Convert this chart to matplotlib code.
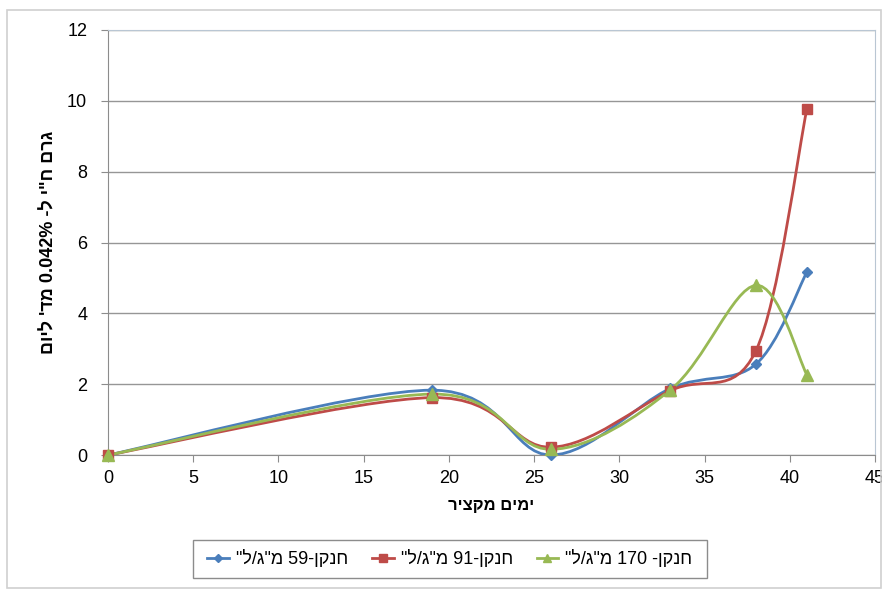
import numpy as np
import matplotlib
matplotlib.use('Agg')
import matplotlib.pyplot as plt
from matplotlib.path import Path
from matplotlib.patches import PathPatch, Rectangle
from matplotlib.lines import Line2D

plt.rcParams['font.family'] = ['Liberation Sans', 'DejaVu Sans']

# days since harvest
days = [0, 19, 26, 33, 38, 41]

# values per series
n59 = [0, 1.83, 0.0, 1.88, 2.56, 5.16]
n91 = [0, 1.62, 0.22, 1.82, 2.93, 9.76]
n170 = [0, 1.72, 0.16, 1.84, 4.79, 2.27]

# hebrew strings are written in visual (left-to-right) order
labels = ['"ל/ג"מ 59-ןקנח', '"ל/ג"מ 91-ןקנח', '"ל/ג"מ 170 -ןקנח']
colors = ['#4a7ebb', '#be4b48', '#98b954']
markers = ['D', 's', '^']
msizes = [5, 7, 8]
xlabel = 'ריצקמ םימי'
ylabel = "םויל 'דמ 0.042% -ל י\"ח םרג"


def smooth_path(x, y):
    # excel-like smoothed line: catmull-rom segments as cubic beziers
    pts = np.column_stack([x, y]).astype(float)
    n = len(pts)
    verts = [pts[0]]
    codes = [Path.MOVETO]
    for i in range(n - 1):
        p0 = pts[i - 1] if i > 0 else pts[i]
        p1 = pts[i]
        p2 = pts[i + 1]
        p3 = pts[i + 2] if i + 2 < n else pts[i + 1]
        c1 = p1 + (p2 - p0) / 6.0
        c2 = p2 - (p3 - p1) / 6.0
        verts += [c1, c2, p2]
        codes += [Path.CURVE4] * 3
    return Path(verts, codes)


fig = plt.figure(figsize=(8.82, 5.90), dpi=100)
ax = fig.add_axes([108 / 882, 1 - 455 / 590, (875 - 108) / 882, (455 - 30) / 590])

# outer chart border
fig.patches.append(Rectangle((7 / 882, 2 / 590), 874 / 882, 578 / 590,
                             transform=fig.transFigure, fill=False,
                             edgecolor='#d0d0d0', lw=1.2))
# legend box
fig.patches.append(Rectangle((193 / 882, 1 - 578 / 590), 514 / 882, 38 / 590,
                             transform=fig.transFigure, fill=False,
                             edgecolor='#8c8c8c', lw=1))

for yv, lab, c, m, ms in zip([n59, n91, n170], labels, colors, markers, msizes):
    ax.add_patch(PathPatch(smooth_path(days, yv), fill=False, edgecolor=c,
                           lw=2.0, zorder=3))
    ax.plot(days, yv, ls='none', marker=m, ms=ms, color=c, zorder=4,
            clip_on=False)

ax.set_xlim(0, 45)
ax.set_ylim(0, 12)
ax.set_xticks(range(0, 46, 5))
ax.set_yticks(range(0, 13, 2))
ax.yaxis.grid(True, color='#969696', lw=1)
ax.set_axisbelow(True)

for s in ['left', 'bottom']:
    ax.spines[s].set_color('#8c8c8c')
for s in ['top', 'right']:
    ax.spines[s].set_color('#b9c6d3')
ax.tick_params(axis='x', direction='out', length=5, color='#8c8c8c',
               labelsize=13, pad=6)
ax.tick_params(axis='y', direction='out', length=5, color='#8c8c8c',
               labelsize=13, pad=10)

ax.set_xlabel(xlabel, fontsize=12, fontweight='bold', labelpad=8)
ax.set_ylabel(ylabel, fontsize=13, fontweight='bold', labelpad=7)

handles = [Line2D([], [], color=c, marker=m, ms=ms * 0.8, lw=2)
           for c, m, ms in zip(colors, markers, msizes)]
leg = fig.legend(handles, labels, loc='center', bbox_to_anchor=(450 / 882, 1 - 559 / 590),
                 ncol=3, fontsize=13, frameon=False,
                 handlelength=1.2, columnspacing=1.3, handletextpad=0.4,
                 borderpad=0.3)

fig.savefig('out.png', dpi=100)
